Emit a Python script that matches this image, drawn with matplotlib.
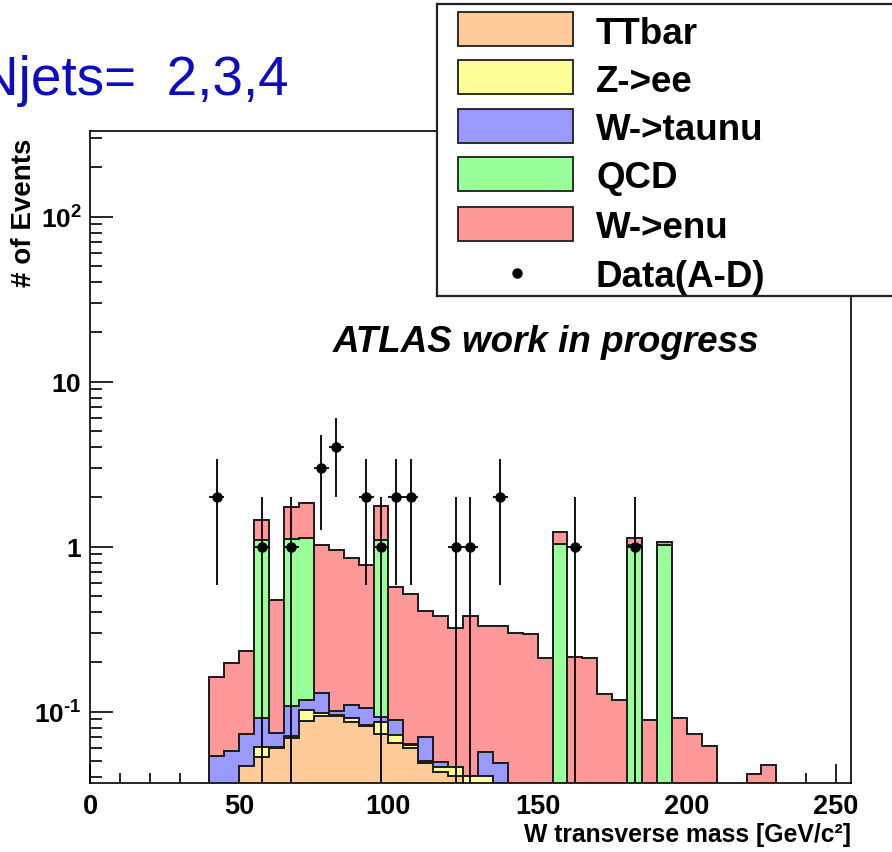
import matplotlib
matplotlib.use("Agg")
import matplotlib.pyplot as plt
import numpy as np
from matplotlib.patches import Rectangle
from matplotlib.ticker import FixedLocator, FixedFormatter, LogLocator, MultipleLocator, NullFormatter

SANS = "Liberation Sans"
plt.rcParams.update({
    "font.family": [SANS, "DejaVu Sans"], "font.weight": "bold",
    "mathtext.fontset": "custom", "mathtext.rm": f"{SANS}:bold",
    "mathtext.bf": f"{SANS}:bold", "mathtext.default": "bf",
})

# 5 GeV bins from 40 to 230 GeV
bin_lo = np.arange(40, 230, 5)
ttbar = [0, 0, .047, .053, .060, .069, .088, .094, .094, .087,
         .082, .073, .065, .060, .049, .043, .041, .030, .030, .020,
         0, 0, 0, 0, 0, 0, 0, 0, 0, 0,
         0, 0, 0, 0, 0, 0, 0, 0]
zee = [0, 0, 0, .0084, .001, .0023, .014, .0037, .002, .0043,
       .001, .0135, .0075, .0028, .001, .0034, .005, .011, .011, .010,
       0, 0, 0, 0, 0, 0, 0, 0, 0, 0,
       0, 0, 0, 0, 0, 0, 0, 0]
wtaunu = [.054, .058, .026, .030, .013, .037, .015, .032, .005, .018,
          .022, .0065, .0166, .001, .020, .003, 0, 0, .016, .0186,
          0, 0, 0, 0, 0, 0, 0, 0, 0, 0,
          0, 0, 0, 0, 0, 0, 0, 0]
qcd = [0, 0, 0, 1.008, 0, 1.012, 1.013, 0, 0, 0,
       0, 1.007, 0, 0, 0, 0, 0, 0, 0, 0,
       0, 0, 0, 1.04, 0, 0, 0, 0, 1.03, 0,
       1.03, 0, 0, 0, 0, 0, 0, 0]
wenu = [.109, .139, .159, .35, .399, .61, .71, .90, .859, .748,
        .673, .66, .477, .451, .34, .33, .277, .339, .276, .284,
        .30, .296, .212, .19, .214, .212, .128, .118, .10, .089,
        .04, .091, .073, .062, 0, 0, .042, .0475]

data_mt = [42.5, 57.5, 67.5, 77.5, 82.5, 92.5, 97.5, 102.5, 107.5, 122.5, 127.5, 137.5, 162.5, 182.5]
data_n = [2, 1, 1, 3, 4, 2, 1, 2, 2, 1, 1, 2, 1, 1]

labels = ["TTbar", "Z->ee", "W->taunu", "QCD", "W->enu"]
colors = ["#ffcc99", "#ffff99", "#9999ff", "#99ff99", "#ff9999"]
EDGE = "#1e1e1e"

W, H = 892, 853
fig = plt.figure(figsize=(W / 100, H / 100), dpi=100)
ax = fig.add_axes([90 / W, 1 - 784 / H, 761 / W, 652 / H])
ax.set_yscale("log")

edges = np.append(bin_lo, bin_lo[-1] + 5)
cum = np.cumsum(np.array([ttbar, zee, wtaunu, qcd, wenu]), axis=0)
for k in range(len(labels) - 1, -1, -1):
    ax.stairs(np.maximum(cum[k], 1e-4), edges, baseline=1e-4, fill=True,
              facecolor=colors[k], edgecolor=EDGE, linewidth=1.3, zorder=2)
    ax.stairs(np.maximum(cum[k], 1e-4), edges, baseline=1e-4, fill=False,
              color=EDGE, linewidth=1.3, zorder=2)

n = np.array(data_n, dtype=float)
lo = np.maximum(n - np.sqrt(n), 1e-4)
ax.errorbar(data_mt, n, yerr=[n - lo, np.sqrt(n)], xerr=2.5, fmt="o", color="black",
            ms=6.5, elinewidth=1.3, capsize=0, zorder=4)

ax.set_xlim(0, 255)
ax.set_ylim(0.037, 330)
ax.xaxis.set_major_locator(MultipleLocator(50))
ax.xaxis.set_minor_locator(MultipleLocator(10))
ax.yaxis.set_major_locator(FixedLocator([0.1, 1, 10, 100]))
ax.yaxis.set_major_formatter(FixedFormatter([r"$10^{\text{-}1}$", r"$1$", r"$10$", r"$10^{2}$"]))
ax.yaxis.set_minor_locator(LogLocator(subs=np.arange(2, 10)))
ax.yaxis.set_minor_formatter(NullFormatter())
ax.tick_params(axis="both", which="both", direction="in", top=False, right=False, width=1.2)
ax.tick_params(axis="x", which="major", length=14, pad=7, labelsize=19.5)
ax.tick_params(axis="x", which="minor", length=7)
ax.tick_params(axis="y", which="major", length=16.5, pad=6, labelsize=19)
ax.tick_params(axis="y", which="minor", length=8.6)
for s in ax.spines.values():
    s.set_linewidth(1.2)

ax.set_xlabel("W transverse mass [GeV/c²]", fontsize=17.8, fontweight="bold")
ax.xaxis.set_label_coords(1.0, -0.06)
ax.xaxis.label.set_ha("right")
ax.set_ylabel("# of Events", fontsize=20, fontweight="bold")
ax.yaxis.set_label_coords(-0.07, 0.876)

ax.text((333 - 90) / 761, (784 - 352) / 652, "ATLAS work in progress", transform=ax.transAxes,
        fontsize=26.5, fontweight="bold", fontstyle="italic", ha="left", va="baseline")
fig.text(289 / W, 1 - 95 / H, "Njets=  2,3,4", color="#0c0cc0", fontsize=39.5,
         fontweight="normal", ha="right", va="baseline")

# legend box, drawn in pixel units
lg = fig.add_axes([437 / W, 1 - 297 / H, (905 - 437) / W, 292 / H])
lg.set_xlim(437, 905)
lg.set_ylim(297, 5)
lg.set_xticks([])
lg.set_yticks([])
for s in lg.spines.values():
    s.set_linewidth(1.6)
    s.set_color("#222222")
rows = [30, 78, 127, 175, 225]
for yc, lab, col in zip(rows, labels, colors):
    lg.add_patch(Rectangle((458, yc - 17), 115, 34, facecolor=col, edgecolor=EDGE, linewidth=1.3))
    lg.text(596, yc + 13.5, lab, fontsize=26.5, fontweight="bold", va="baseline")
lg.plot([517], [274], "o", color="black", ms=6.5)
lg.text(596, 274 + 13.5, "Data(A-D)", fontsize=26.5, fontweight="bold", va="baseline")

fig.savefig("out.png", dpi=100)
